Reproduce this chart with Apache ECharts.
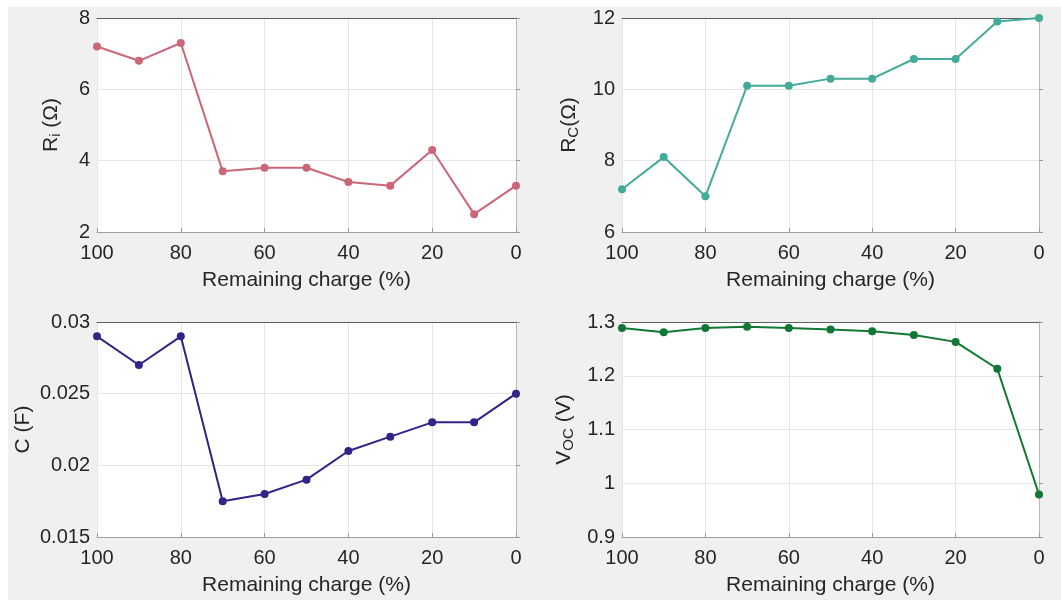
<!DOCTYPE html>
<html>
<head>
<meta charset="utf-8">
<script src="https://cdn.jsdelivr.net/npm/echarts@6/dist/echarts.min.js"></script>
<style>
html,body{margin:0;padding:0;background:#fff;}
#bg{position:absolute;left:8px;top:7px;right:0;bottom:0;background:#f0f0f0;}
#chart{position:absolute;left:0;top:0;width:1061px;height:600px;}
</style>
</head>
<body>
<div id="bg"></div>
<div id="chart"></div>
<script>
// Data
const charge = [100, 90, 80, 70, 60, 50, 40, 30, 20, 10, 0];
const Ri  = [7.2, 6.8, 7.3, 3.7, 3.8, 3.8, 3.4, 3.3, 4.3, 2.5, 3.3];
const Rc  = [7.2, 8.1, 7.0, 10.1, 10.1, 10.3, 10.3, 10.85, 10.85, 11.9, 12.0];
const Cap = [0.029, 0.027, 0.029, 0.0175, 0.018, 0.019, 0.021, 0.022, 0.023, 0.023, 0.025];
const Voc = [1.289, 1.281, 1.289, 1.291, 1.289, 1.286, 1.283, 1.276, 1.263, 1.213, 0.979];
const xTitle = 'Remaining charge (%)';

const FONT = '"Liberation Sans", Arial, Helvetica, sans-serif';
const TXT = '#262626';
const colors = ['#CC6677', '#44AA99', '#332288', '#117733'];

const grids = [
  {left: 97, top: 18, width: 419, height: 214},
  {left: 622, top: 18, width: 417, height: 214},
  {left: 97, top: 322, width: 419, height: 215},
  {left: 622, top: 322, width: 417, height: 215}
];
const yCfg = [
  {min: 2, max: 8, interval: 2, name: '{a|R}{s|i}{a| (Ω)}', gap: 34},
  {min: 6, max: 12, interval: 2, name: '{a|R}{s|C}{a|(Ω)}', gap: 41},
  {min: 0.015, max: 0.03, interval: 0.005, name: '{a|C (F)}', gap: 62},
  {min: 0.9, max: 1.3, interval: 0.1, name: '{a|V}{s|OC}{a| (V)}', gap: 46}
];
const series = [Ri, Rc, Cap, Voc];

const rich = {
  a: {fontSize: 21, fontFamily: FONT, color: TXT, lineHeight: 24},
  s: {fontSize: 15, fontFamily: FONT, color: TXT, verticalAlign: 'bottom', padding: [14, 0, 0, 0], lineHeight: 16}
};

const option = {
  animation: false,
  backgroundColor: 'transparent',
  grid: grids.map(g => Object.assign({show: true, backgroundColor: '#ffffff', borderWidth: 0}, g)),
  xAxis: [],
  yAxis: [],
  series: []
};

grids.forEach((g, i) => {
  option.xAxis.push({
    type: 'value', gridIndex: i, min: 0, max: 100, interval: 20, inverse: true,
    name: xTitle, nameLocation: 'middle', nameGap: 38,
    nameTextStyle: {fontSize: 21, fontFamily: FONT, color: TXT},
    axisLine: {show: true, lineStyle: {color: '#a0a0a0', width: 1}},
    axisTick: {show: true, inside: true, length: 4, lineStyle: {color: '#999'}},
    axisLabel: {fontSize: 20, fontFamily: FONT, color: TXT, margin: 11},
    splitLine: {show: true, lineStyle: {color: '#e6e6e6', width: 1}}
  });
  option.xAxis.push({
    type: 'value', gridIndex: i, min: 0, max: 100, interval: 20, inverse: true, position: 'top',
    axisLine: {show: true, onZero: false, lineStyle: {color: '#606060', width: 1}},
    axisTick: {show: false}, axisLabel: {show: false}, splitLine: {show: false}
  });
  const y = yCfg[i];
  option.yAxis.push({
    type: 'value', gridIndex: i, min: y.min, max: y.max, interval: y.interval,
    name: y.name, nameLocation: 'middle', nameGap: y.gap, nameRotate: 90,
    nameTextStyle: {rich: rich},
    axisLine: {show: true, lineStyle: {color: '#a0a0a0', width: 1}},
    axisTick: {show: true, inside: true, length: 4, lineStyle: {color: '#999'}},
    axisLabel: {fontSize: 20, fontFamily: FONT, color: TXT, margin: 7},
    splitLine: {show: true, lineStyle: {color: '#e6e6e6', width: 1}}
  });
  option.yAxis.push({
    type: 'value', gridIndex: i, min: y.min, max: y.max, interval: y.interval, position: 'right',
    axisLine: {show: true, onZero: false, lineStyle: {color: '#b8b8b8', width: 1}},
    axisTick: {show: false}, axisLabel: {show: false}, splitLine: {show: false}
  });
  option.series.push({
    type: 'line', xAxisIndex: i * 2, yAxisIndex: i * 2,
    data: charge.map((c, k) => [c, series[i][k]]),
    symbol: 'circle', symbolSize: 8,
    lineStyle: {color: colors[i], width: 2},
    itemStyle: {color: colors[i]},
    clip: false
  });
});

const chart = echarts.init(document.getElementById('chart'), null, {renderer: 'canvas'});
chart.setOption(option);
</script>
</body>
</html>
